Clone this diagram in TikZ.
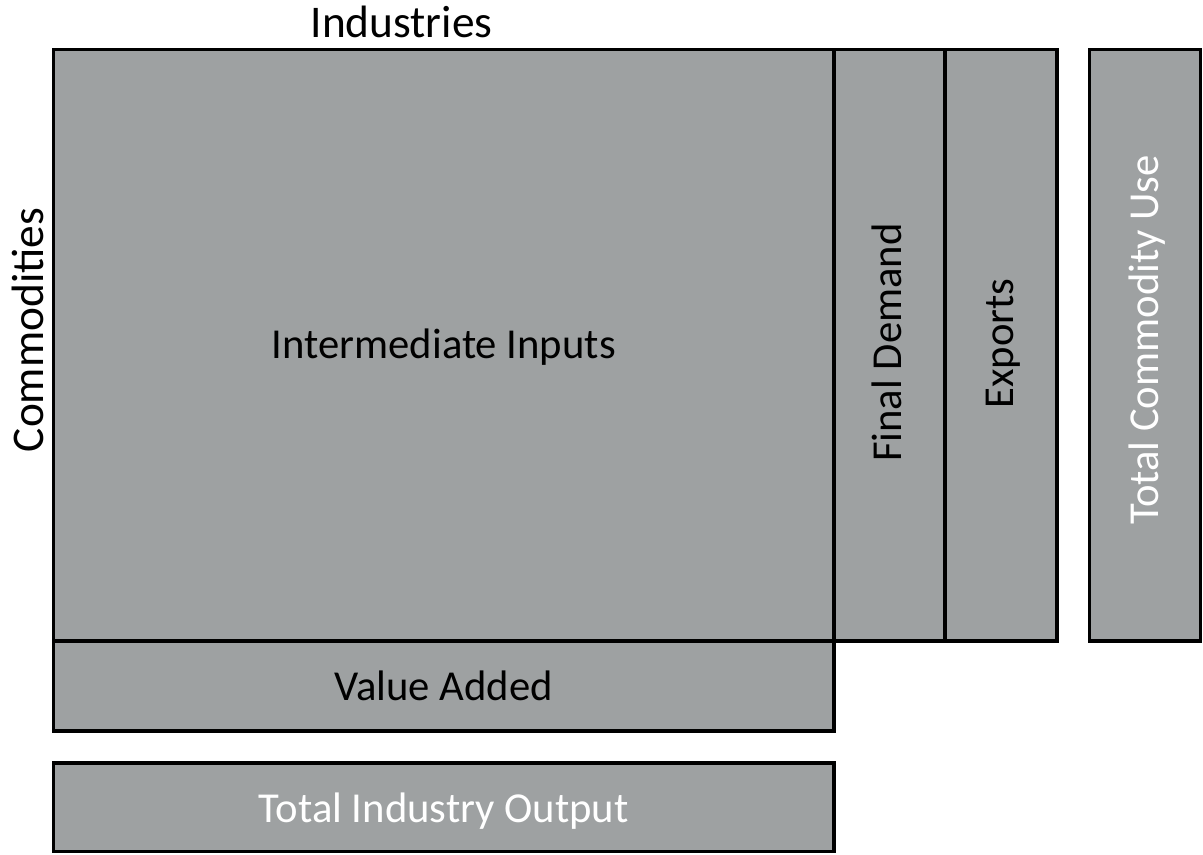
\documentclass[tikz,border=0pt]{standalone}
\usepackage{fontspec}
\setmainfont{Carlito}
\definecolor{cellgray}{RGB}{158,161,162}
\begin{document}
\begin{tikzpicture}[x=0.75pt,y=-0.75pt,
        cell/.style={draw=black,fill=cellgray,line width=2.3pt},
        lbl/.style={font=\fontsize{32}{38}\selectfont,text=black,inner sep=0pt,text height=25.6pt,text depth=5.4pt},
        total/.style={lbl,text=white},
        axis/.style={lbl,font=\fontsize{34}{40}\selectfont,text height=27.2pt,text depth=5.7pt}]
        \useasboundingbox (0,0) rectangle (1203,854);
        \draw[cell] (53.5,49.5) rectangle (834,641);
        \draw[cell] (834,49.5) rectangle (945,641);
        \draw[cell] (945,49.5) rectangle (1057,641);
        \draw[cell] (1089.5,49.5) rectangle (1200.5,641);
        \draw[cell] (53.5,641) rectangle (834,731);
        \draw[cell] (53.5,763) rectangle (834,851.5);
        \node[lbl] (inter) at (443.75,345.5) {Intermediate Inputs};
        \node[lbl,rotate=90] (final) at (888.5,342.5) {Final Demand};
        \node[lbl,rotate=90] (exports) at (1000,343.5) {Exports};
        \node[total,rotate=90] (commUse) at (1145,340) {Total Commodity Use};
        \node[lbl] (valAdd) at (443.75,687.5) {Value Added};
        \node[total] (indOut) at (443.75,809) {Total Industry Output};
        \node[axis] (industries) at (401.5,23.5) {Industries};
        \node[axis,rotate=90] (commodities) at (29,330) {Commodities};
      \end{tikzpicture}
\end{document}
